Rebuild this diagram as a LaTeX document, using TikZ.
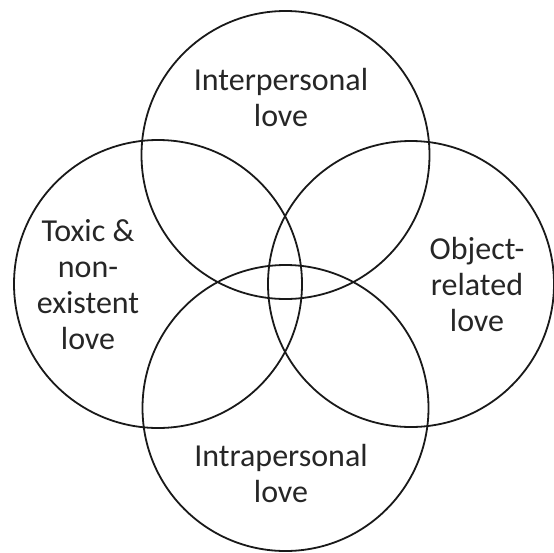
\documentclass[tikz,border=0pt]{standalone}
\usepackage{fontspec}
\setmainfont{Carlito}
\begin{document}
\begin{tikzpicture}[x=1pt,y=-1pt,
  ring/.style={draw=black!90,line width=1.8pt},
  lbl/.style={align=center,font=\fontsize{32}{36}\selectfont,text=black!85,inner sep=0pt}]
\useasboundingbox (0,0) rectangle (554,552);
\node[ring,circle,minimum size=288pt,inner sep=0pt] (top) at (285.5,155) {};
\node[ring,circle,minimum size=288pt,inner sep=0pt] (left) at (158,284) {};
\node[ring,circle,minimum size=286pt,inner sep=0pt] (right) at (411,284) {};
\node[ring,circle,minimum size=286pt,inner sep=0pt] (bottom) at (285.5,408) {};
\node[lbl] (tl) at (281,97) {Interpersonal\\love};
\node[lbl] (ll) at (88,285) {Toxic \&\\non-\\existent\\love};
\node[lbl] (rl) at (477,284) {Object-\\related\\love};
\node[lbl] (bl) at (281,473) {Intrapersonal\\love};
\end{tikzpicture}
\end{document}
